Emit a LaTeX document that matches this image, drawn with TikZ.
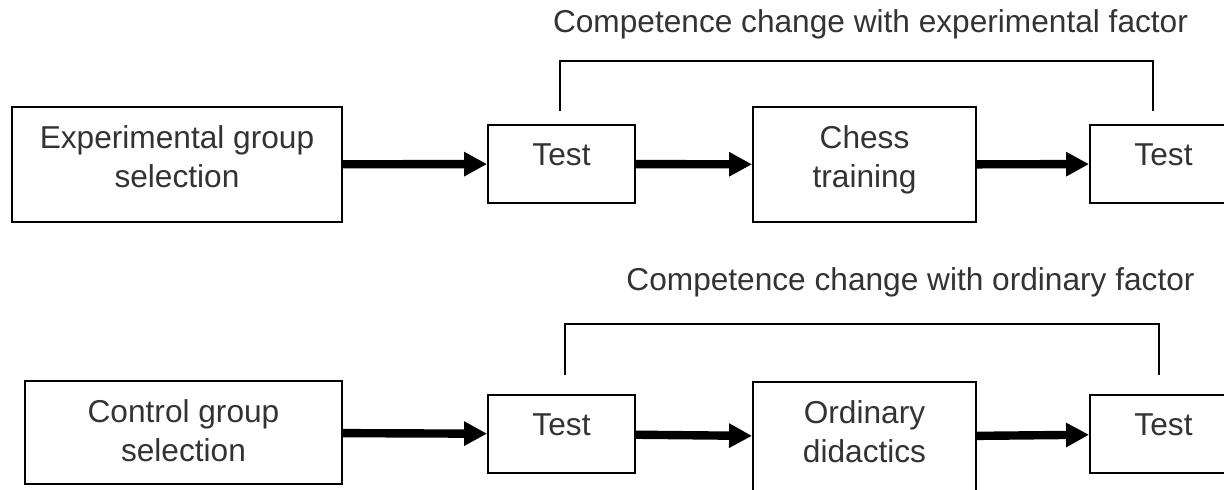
\documentclass[tikz,border=0pt]{standalone}
\usepackage{fontspec}
\setmainfont{Liberation Sans}
\usetikzlibrary{arrows.meta}
\definecolor{inkgray}{HTML}{333333}

\begin{document}
\begin{tikzpicture}[x=0.025cm, y=-0.025cm,
          box/.style={rectangle, draw=black, line width=0.045cm, inner sep=0pt,
                      align=center, text=inkgray, text height=2cm,
                      font=\fontsize{22.5pt}{27.7pt}\selectfont},
          testbox/.style={box, minimum width=3.675cm, text height=1.025cm, text depth=0.925cm},
          arr/.style={-{Triangle[length=0.575cm, width=0.575cm]}, line width=0.21cm, black},
          brk/.style={line width=0.04cm, black},
          lbl/.style={anchor=base, text=inkgray, font=\fontsize{22.5pt}{27.7pt}\selectfont}
        ]
        \useasboundingbox (0,0) rectangle (1224,490);
        \clip (0,0) rectangle (1224,490);

        % Experimental group
        \node[box, minimum width=8.25cm, text depth=0.875cm] (expsel) at (177,164.5) {Experimental group\\selection};
        \node[testbox] (exppre) at (561.5,164) {Test};
        \node[box, minimum width=5.575cm, text depth=0.875cm] (chess) at (864.5,164.5) {Chess\\training};
        \node[testbox] (exppost) at (1163.5,164) {Test};

        \draw[arr] (expsel) -- (exppre);
        \draw[arr] (exppre) -- (chess);
        \draw[arr] (chess) -- (exppost);

        % Control group
        \node[box, minimum width=7.925cm, text depth=0.575cm] (ctrlsel) at (183.5,432.5) {Control group\\selection};
        \node[testbox] (ctrlpre) at (561.5,434) {Test};
        \node[box, minimum width=5.575cm, text depth=0.75cm] (didact) at (864.5,437) {Ordinary\\didactics};
        \node[testbox] (ctrlpost) at (1163.5,434) {Test};

        \draw[arr] (ctrlsel) -- (ctrlpre);
        \draw[arr] (ctrlpre) -- (didact);
        \draw[arr] (didact) -- (ctrlpost);

        % Competence brackets
        \coordinate (expA) at (560,111);
        \coordinate (expB) at (1153,111);
        \draw[brk] (expA) -- ++(0,-50) -| (expB);
        \node[lbl] (explbl) at (870.5,33) {Competence change with experimental factor};

        \coordinate (ctrlA) at (565,375);
        \coordinate (ctrlB) at (1159,375);
        \draw[brk] (ctrlA) -- ++(0,-51) -| (ctrlB);
        \node[lbl] (ordlbl) at (910.5,291) {Competence change with ordinary factor};
      \end{tikzpicture}
\end{document}
